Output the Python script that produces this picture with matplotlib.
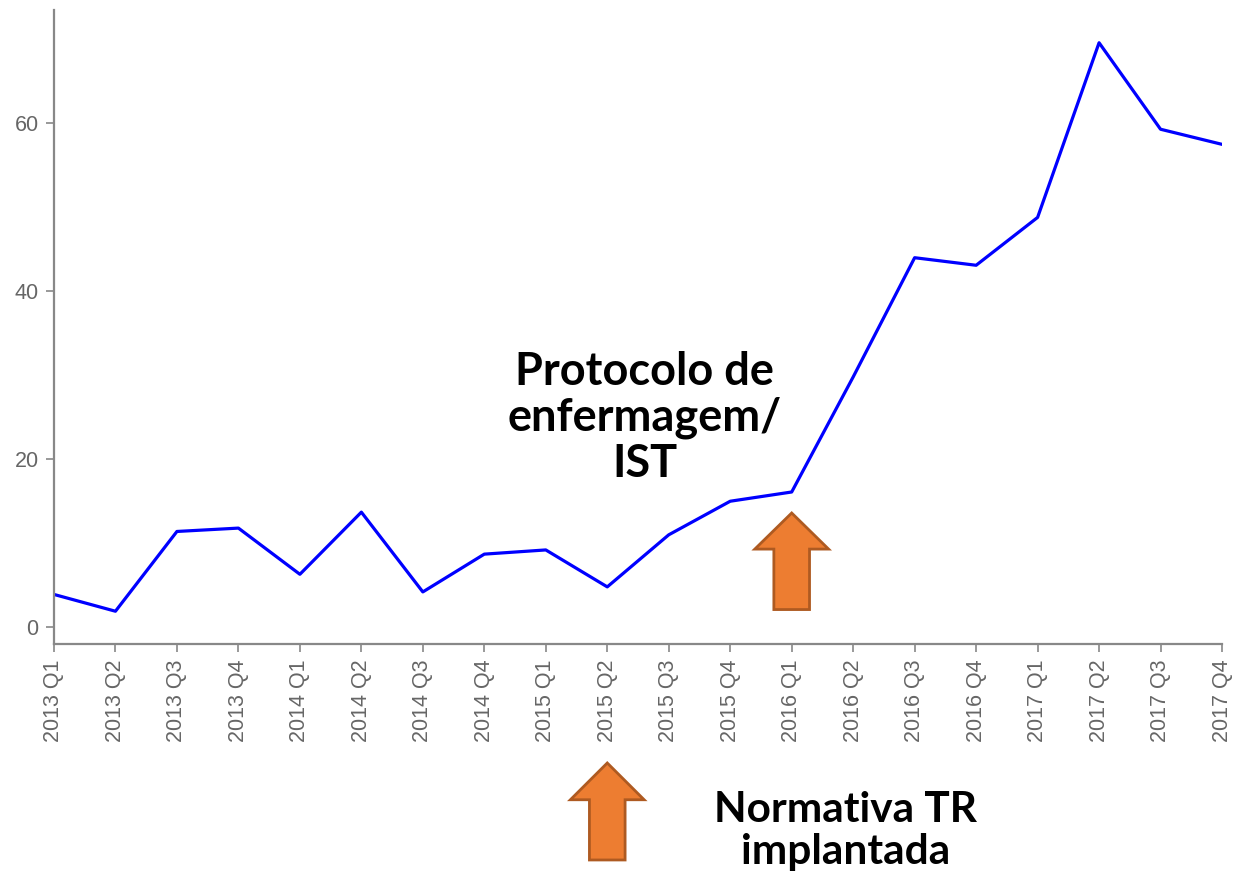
import numpy as np
import matplotlib.pyplot as plt
from matplotlib.patches import FancyArrow
from matplotlib.transforms import blended_transform_factory

quarters = ["2013 Q1", "2013 Q2", "2013 Q3", "2013 Q4",
            "2014 Q1", "2014 Q2", "2014 Q3", "2014 Q4",
            "2015 Q1", "2015 Q2", "2015 Q3", "2015 Q4",
            "2016 Q1", "2016 Q2", "2016 Q3", "2016 Q4",
            "2017 Q1", "2017 Q2", "2017 Q3", "2017 Q4"]
values = [3.9, 1.9, 11.4, 11.8, 6.3, 13.7, 4.2, 8.7, 9.2, 4.8,
          11.0, 15.0, 16.1, 29.8, 44.0, 43.1, 48.8, 69.6, 59.3, 57.5]

protocol_idx = quarters.index("2016 Q1")
normativa_idx = quarters.index("2015 Q2")

fig = plt.figure(figsize=(12.38, 8.77), dpi=100)
ax = fig.add_axes([0.0436, 0.2657, 0.9435, 0.7229])

x = np.arange(len(quarters))
ax.plot(x, values, color="#0000ff", linewidth=2.3)

ax.set_xlim(0, len(quarters) - 1)
ax.set_ylim(-2, 73.5)
ax.set_xticks(x)
ax.set_xticklabels(quarters, rotation=90)
ax.set_yticks([0, 20, 40, 60])

for side in ["top", "right"]:
    ax.spines[side].set_visible(False)
for side in ["left", "bottom"]:
    ax.spines[side].set_color("#888888")
    ax.spines[side].set_linewidth(1.6)
ax.tick_params(colors="#888888", length=6, width=1.2, labelcolor="#666666",
               labelsize=15.5, pad=5)
for lab in ax.get_xticklabels() + ax.get_yticklabels():
    lab.set_family("Liberation Sans")

orange = "#ED7D31"
edge = "#AE5A21"

# arrow inside the plot at 2016 Q1
ax.add_patch(FancyArrow(protocol_idx, 2.1, 0, 11.5, width=0.58,
                        head_width=1.2, head_length=4.3,
                        length_includes_head=True,
                        facecolor=orange, edgecolor=edge, linewidth=2))

# arrow below the axis at 2015 Q2
trans = blended_transform_factory(ax.transData, ax.transAxes)
ax.add_patch(FancyArrow(normativa_idx, -0.3407, 0, 0.153, width=0.58,
                        head_width=1.2, head_length=0.058,
                        length_includes_head=True, transform=trans,
                        clip_on=False,
                        facecolor=orange, edgecolor=edge, linewidth=2))

ax.text(9.61, 24.9, "Protocolo de\nenfermagem/\nIST", ha="center",
        va="center", fontsize=32.5, fontweight="bold", family="Lato",
        linespacing=1.12)
ax.text(12.87, -0.295, "Normativa TR\nimplantada", transform=trans,
        ha="center", va="center", fontsize=30.5, fontweight="bold",
        family="Lato", linespacing=1.1, clip_on=False)

fig.savefig("out.png", dpi=100)
